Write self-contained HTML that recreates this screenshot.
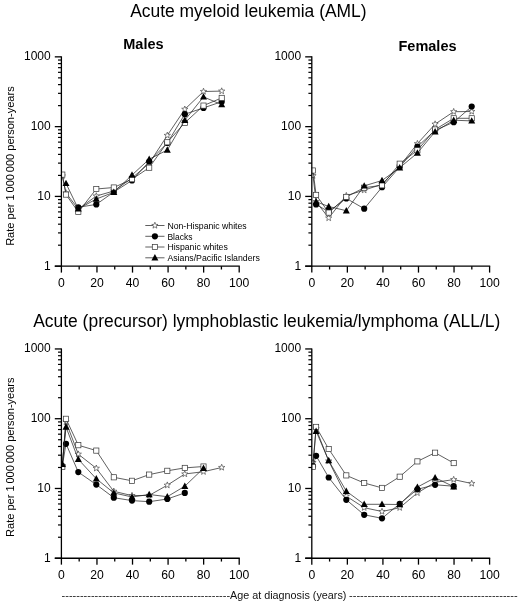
<!DOCTYPE html>
<html><head><meta charset="utf-8"><title>Leukemia incidence</title>
<style>
html,body{margin:0;padding:0;background:#fff;}
body{width:520px;height:605px;overflow:hidden;font-family:"Liberation Sans",sans-serif;}
svg{display:block;will-change:transform;}
</style></head><body>
<svg width="520" height="605" viewBox="0 0 520 605" font-family="'Liberation Sans', sans-serif" fill="#000">
<rect width="520" height="605" fill="#fff"/>
<text x="248.4" y="16.8" text-anchor="middle" font-size="17.45">Acute myeloid leukemia (AML)</text>
<text x="143.4" y="49" text-anchor="middle" font-size="14.5" font-weight="bold">Males</text>
<text x="427.5" y="50.5" text-anchor="middle" font-size="14.5" font-weight="bold">Females</text>
<text x="33.2" y="327" font-size="17.45">Acute (precursor) lymphoblastic leukemia/lymphoma (ALL/L)</text>
<text transform="translate(14.2,166.1) rotate(-90)" text-anchor="middle" font-size="11.04">Rate per 1<tspan dx="-1.2"> 000</tspan><tspan dx="-1.2"> 000 person-years</tspan></text>
<text transform="translate(14.2,457.2) rotate(-90)" text-anchor="middle" font-size="11.04">Rate per 1<tspan dx="-1.2"> 000</tspan><tspan dx="-1.2"> 000 person-years</tspan></text>
<clipPath id="c1"><rect x="61.199999999999996" y="0" width="260" height="605"/></clipPath>
<g clip-path="url(#c1)">
<polyline points="62.30,176.00 66.00,193.00 78.30,209.00 96.30,196.00 113.80,191.00 132.00,178.00 149.20,163.40 167.30,135.40 184.80,109.30 203.50,91.50 221.70,91.10" fill="none" stroke="#222" stroke-width="0.72"/>
<polygon points="62.30,172.70 63.12,174.87 65.44,174.98 63.63,176.43 64.24,178.67 62.30,177.40 60.36,178.67 60.97,176.43 59.16,174.98 61.48,174.87" fill="#fff" stroke="#333" stroke-width="0.6"/>
<polygon points="66.00,189.70 66.82,191.87 69.14,191.98 67.33,193.43 67.94,195.67 66.00,194.40 64.06,195.67 64.67,193.43 62.86,191.98 65.18,191.87" fill="#fff" stroke="#333" stroke-width="0.6"/>
<polygon points="78.30,205.70 79.12,207.87 81.44,207.98 79.63,209.43 80.24,211.67 78.30,210.40 76.36,211.67 76.97,209.43 75.16,207.98 77.48,207.87" fill="#fff" stroke="#333" stroke-width="0.6"/>
<polygon points="96.30,192.70 97.12,194.87 99.44,194.98 97.63,196.43 98.24,198.67 96.30,197.40 94.36,198.67 94.97,196.43 93.16,194.98 95.48,194.87" fill="#fff" stroke="#333" stroke-width="0.6"/>
<polygon points="113.80,187.70 114.62,189.87 116.94,189.98 115.13,191.43 115.74,193.67 113.80,192.40 111.86,193.67 112.47,191.43 110.66,189.98 112.98,189.87" fill="#fff" stroke="#333" stroke-width="0.6"/>
<polygon points="132.00,174.70 132.82,176.87 135.14,176.98 133.33,178.43 133.94,180.67 132.00,179.40 130.06,180.67 130.67,178.43 128.86,176.98 131.18,176.87" fill="#fff" stroke="#333" stroke-width="0.6"/>
<polygon points="149.20,160.10 150.02,162.27 152.34,162.38 150.53,163.83 151.14,166.07 149.20,164.80 147.26,166.07 147.87,163.83 146.06,162.38 148.38,162.27" fill="#fff" stroke="#333" stroke-width="0.6"/>
<polygon points="167.30,132.10 168.12,134.27 170.44,134.38 168.63,135.83 169.24,138.07 167.30,136.80 165.36,138.07 165.97,135.83 164.16,134.38 166.48,134.27" fill="#fff" stroke="#333" stroke-width="0.6"/>
<polygon points="184.80,106.00 185.62,108.17 187.94,108.28 186.13,109.73 186.74,111.97 184.80,110.70 182.86,111.97 183.47,109.73 181.66,108.28 183.98,108.17" fill="#fff" stroke="#333" stroke-width="0.6"/>
<polygon points="203.50,88.20 204.32,90.37 206.64,90.48 204.83,91.93 205.44,94.17 203.50,92.90 201.56,94.17 202.17,91.93 200.36,90.48 202.68,90.37" fill="#fff" stroke="#333" stroke-width="0.6"/>
<polygon points="221.70,87.80 222.52,89.97 224.84,90.08 223.03,91.53 223.64,93.77 221.70,92.50 219.76,93.77 220.37,91.53 218.56,90.08 220.88,89.97" fill="#fff" stroke="#333" stroke-width="0.6"/>
<polyline points="78.30,207.30 96.30,204.40 113.80,192.00 132.00,180.40 149.20,161.50 167.30,143.00 184.80,114.20 203.50,107.90 221.70,101.70" fill="none" stroke="#222" stroke-width="0.72"/>
<circle cx="78.30" cy="207.30" r="3.1" fill="#000"/>
<circle cx="96.30" cy="204.40" r="3.1" fill="#000"/>
<circle cx="113.80" cy="192.00" r="3.1" fill="#000"/>
<circle cx="132.00" cy="180.40" r="3.1" fill="#000"/>
<circle cx="149.20" cy="161.50" r="3.1" fill="#000"/>
<circle cx="167.30" cy="143.00" r="3.1" fill="#000"/>
<circle cx="184.80" cy="114.20" r="3.1" fill="#000"/>
<circle cx="203.50" cy="107.90" r="3.1" fill="#000"/>
<circle cx="221.70" cy="101.70" r="3.1" fill="#000"/>
<polyline points="62.30,174.60 66.00,194.60 78.30,212.00 96.30,189.00 113.80,187.50 132.00,179.20 149.20,167.70 167.30,142.30 184.80,122.80 203.50,105.60 221.70,97.90" fill="none" stroke="#222" stroke-width="0.72"/>
<rect x="59.70" y="172.00" width="5.2" height="5.2" fill="#fff" stroke="#333" stroke-width="0.7"/>
<rect x="63.40" y="192.00" width="5.2" height="5.2" fill="#fff" stroke="#333" stroke-width="0.7"/>
<rect x="75.70" y="209.40" width="5.2" height="5.2" fill="#fff" stroke="#333" stroke-width="0.7"/>
<rect x="93.70" y="186.40" width="5.2" height="5.2" fill="#fff" stroke="#333" stroke-width="0.7"/>
<rect x="111.20" y="184.90" width="5.2" height="5.2" fill="#fff" stroke="#333" stroke-width="0.7"/>
<rect x="129.40" y="176.60" width="5.2" height="5.2" fill="#fff" stroke="#333" stroke-width="0.7"/>
<rect x="146.60" y="165.10" width="5.2" height="5.2" fill="#fff" stroke="#333" stroke-width="0.7"/>
<rect x="164.70" y="139.70" width="5.2" height="5.2" fill="#fff" stroke="#333" stroke-width="0.7"/>
<rect x="182.20" y="120.20" width="5.2" height="5.2" fill="#fff" stroke="#333" stroke-width="0.7"/>
<rect x="200.90" y="103.00" width="5.2" height="5.2" fill="#fff" stroke="#333" stroke-width="0.7"/>
<rect x="219.10" y="95.30" width="5.2" height="5.2" fill="#fff" stroke="#333" stroke-width="0.7"/>
<polyline points="66.00,183.40 78.30,208.90 96.30,199.00 113.80,192.30 132.00,175.00 149.20,159.20 167.30,150.00 184.80,120.20 203.50,96.90 221.70,104.60" fill="none" stroke="#222" stroke-width="0.72"/>
<polygon points="66.00,179.69 69.50,186.09 62.50,186.09" fill="#000"/>
<polygon points="78.30,205.19 81.80,211.59 74.80,211.59" fill="#000"/>
<polygon points="96.30,195.29 99.80,201.69 92.80,201.69" fill="#000"/>
<polygon points="113.80,188.59 117.30,194.99 110.30,194.99" fill="#000"/>
<polygon points="132.00,171.29 135.50,177.69 128.50,177.69" fill="#000"/>
<polygon points="149.20,155.49 152.70,161.89 145.70,161.89" fill="#000"/>
<polygon points="167.30,146.29 170.80,152.69 163.80,152.69" fill="#000"/>
<polygon points="184.80,116.49 188.30,122.89 181.30,122.89" fill="#000"/>
<polygon points="203.50,93.19 207.00,99.59 200.00,99.59" fill="#000"/>
<polygon points="221.70,100.89 225.20,107.29 218.20,107.29" fill="#000"/>
</g>
<clipPath id="c2"><rect x="311.6" y="0" width="260" height="605"/></clipPath>
<g clip-path="url(#c2)">
<polyline points="313.00,175.70 316.10,201.70 328.70,218.00 346.30,195.70 364.20,190.10 382.00,184.30 399.70,166.10 417.40,143.70 435.10,124.10 453.70,111.70 471.70,111.50" fill="none" stroke="#222" stroke-width="0.72"/>
<polygon points="313.00,172.40 313.82,174.57 316.14,174.68 314.33,176.13 314.94,178.37 313.00,177.10 311.06,178.37 311.67,176.13 309.86,174.68 312.18,174.57" fill="#fff" stroke="#333" stroke-width="0.6"/>
<polygon points="316.10,198.40 316.92,200.57 319.24,200.68 317.43,202.13 318.04,204.37 316.10,203.10 314.16,204.37 314.77,202.13 312.96,200.68 315.28,200.57" fill="#fff" stroke="#333" stroke-width="0.6"/>
<polygon points="328.70,214.70 329.52,216.87 331.84,216.98 330.03,218.43 330.64,220.67 328.70,219.40 326.76,220.67 327.37,218.43 325.56,216.98 327.88,216.87" fill="#fff" stroke="#333" stroke-width="0.6"/>
<polygon points="346.30,192.40 347.12,194.57 349.44,194.68 347.63,196.13 348.24,198.37 346.30,197.10 344.36,198.37 344.97,196.13 343.16,194.68 345.48,194.57" fill="#fff" stroke="#333" stroke-width="0.6"/>
<polygon points="364.20,186.80 365.02,188.97 367.34,189.08 365.53,190.53 366.14,192.77 364.20,191.50 362.26,192.77 362.87,190.53 361.06,189.08 363.38,188.97" fill="#fff" stroke="#333" stroke-width="0.6"/>
<polygon points="382.00,181.00 382.82,183.17 385.14,183.28 383.33,184.73 383.94,186.97 382.00,185.70 380.06,186.97 380.67,184.73 378.86,183.28 381.18,183.17" fill="#fff" stroke="#333" stroke-width="0.6"/>
<polygon points="399.70,162.80 400.52,164.97 402.84,165.08 401.03,166.53 401.64,168.77 399.70,167.50 397.76,168.77 398.37,166.53 396.56,165.08 398.88,164.97" fill="#fff" stroke="#333" stroke-width="0.6"/>
<polygon points="417.40,140.40 418.22,142.57 420.54,142.68 418.73,144.13 419.34,146.37 417.40,145.10 415.46,146.37 416.07,144.13 414.26,142.68 416.58,142.57" fill="#fff" stroke="#333" stroke-width="0.6"/>
<polygon points="435.10,120.80 435.92,122.97 438.24,123.08 436.43,124.53 437.04,126.77 435.10,125.50 433.16,126.77 433.77,124.53 431.96,123.08 434.28,122.97" fill="#fff" stroke="#333" stroke-width="0.6"/>
<polygon points="453.70,108.40 454.52,110.57 456.84,110.68 455.03,112.13 455.64,114.37 453.70,113.10 451.76,114.37 452.37,112.13 450.56,110.68 452.88,110.57" fill="#fff" stroke="#333" stroke-width="0.6"/>
<polygon points="471.70,108.20 472.52,110.37 474.84,110.48 473.03,111.93 473.64,114.17 471.70,112.90 469.76,114.17 470.37,111.93 468.56,110.48 470.88,110.37" fill="#fff" stroke="#333" stroke-width="0.6"/>
<polyline points="316.10,204.50 328.70,211.70 346.30,198.40 364.20,208.70 382.00,187.20 399.70,167.00 417.40,146.70 435.10,130.30 453.70,122.20 471.70,106.50" fill="none" stroke="#222" stroke-width="0.72"/>
<circle cx="316.10" cy="204.50" r="3.1" fill="#000"/>
<circle cx="328.70" cy="211.70" r="3.1" fill="#000"/>
<circle cx="346.30" cy="198.40" r="3.1" fill="#000"/>
<circle cx="364.20" cy="208.70" r="3.1" fill="#000"/>
<circle cx="382.00" cy="187.20" r="3.1" fill="#000"/>
<circle cx="399.70" cy="167.00" r="3.1" fill="#000"/>
<circle cx="417.40" cy="146.70" r="3.1" fill="#000"/>
<circle cx="435.10" cy="130.30" r="3.1" fill="#000"/>
<circle cx="453.70" cy="122.20" r="3.1" fill="#000"/>
<circle cx="471.70" cy="106.50" r="3.1" fill="#000"/>
<polyline points="313.00,170.50 316.10,194.90 328.70,212.60 346.30,196.90 364.20,187.70 382.00,185.30 399.70,163.70 417.40,150.30 435.10,129.50 453.70,118.30 471.70,118.30" fill="none" stroke="#222" stroke-width="0.72"/>
<rect x="310.40" y="167.90" width="5.2" height="5.2" fill="#fff" stroke="#333" stroke-width="0.7"/>
<rect x="313.50" y="192.30" width="5.2" height="5.2" fill="#fff" stroke="#333" stroke-width="0.7"/>
<rect x="326.10" y="210.00" width="5.2" height="5.2" fill="#fff" stroke="#333" stroke-width="0.7"/>
<rect x="343.70" y="194.30" width="5.2" height="5.2" fill="#fff" stroke="#333" stroke-width="0.7"/>
<rect x="361.60" y="185.10" width="5.2" height="5.2" fill="#fff" stroke="#333" stroke-width="0.7"/>
<rect x="379.40" y="182.70" width="5.2" height="5.2" fill="#fff" stroke="#333" stroke-width="0.7"/>
<rect x="397.10" y="161.10" width="5.2" height="5.2" fill="#fff" stroke="#333" stroke-width="0.7"/>
<rect x="414.80" y="147.70" width="5.2" height="5.2" fill="#fff" stroke="#333" stroke-width="0.7"/>
<rect x="432.50" y="126.90" width="5.2" height="5.2" fill="#fff" stroke="#333" stroke-width="0.7"/>
<rect x="451.10" y="115.70" width="5.2" height="5.2" fill="#fff" stroke="#333" stroke-width="0.7"/>
<rect x="469.10" y="115.70" width="5.2" height="5.2" fill="#fff" stroke="#333" stroke-width="0.7"/>
<polyline points="316.10,201.70 328.70,206.50 346.30,210.70 364.20,185.90 382.00,180.50 399.70,167.70 417.40,153.00 435.10,131.70 453.70,120.20 471.70,120.90" fill="none" stroke="#222" stroke-width="0.72"/>
<polygon points="316.10,197.99 319.60,204.39 312.60,204.39" fill="#000"/>
<polygon points="328.70,202.79 332.20,209.19 325.20,209.19" fill="#000"/>
<polygon points="346.30,206.99 349.80,213.39 342.80,213.39" fill="#000"/>
<polygon points="364.20,182.19 367.70,188.59 360.70,188.59" fill="#000"/>
<polygon points="382.00,176.79 385.50,183.19 378.50,183.19" fill="#000"/>
<polygon points="399.70,163.99 403.20,170.39 396.20,170.39" fill="#000"/>
<polygon points="417.40,149.29 420.90,155.69 413.90,155.69" fill="#000"/>
<polygon points="435.10,127.99 438.60,134.39 431.60,134.39" fill="#000"/>
<polygon points="453.70,116.49 457.20,122.89 450.20,122.89" fill="#000"/>
<polygon points="471.70,117.19 475.20,123.59 468.20,123.59" fill="#000"/>
</g>
<clipPath id="c3"><rect x="61.199999999999996" y="0" width="260" height="605"/></clipPath>
<g clip-path="url(#c3)">
<polyline points="62.30,466.00 66.00,422.00 78.30,454.20 96.30,468.30 113.80,491.30 132.00,495.60 149.20,495.40 167.30,485.20 184.80,474.00 203.50,471.70 221.70,467.50" fill="none" stroke="#222" stroke-width="0.72"/>
<polygon points="62.30,462.70 63.12,464.87 65.44,464.98 63.63,466.43 64.24,468.67 62.30,467.40 60.36,468.67 60.97,466.43 59.16,464.98 61.48,464.87" fill="#fff" stroke="#333" stroke-width="0.6"/>
<polygon points="66.00,418.70 66.82,420.87 69.14,420.98 67.33,422.43 67.94,424.67 66.00,423.40 64.06,424.67 64.67,422.43 62.86,420.98 65.18,420.87" fill="#fff" stroke="#333" stroke-width="0.6"/>
<polygon points="78.30,450.90 79.12,453.07 81.44,453.18 79.63,454.63 80.24,456.87 78.30,455.60 76.36,456.87 76.97,454.63 75.16,453.18 77.48,453.07" fill="#fff" stroke="#333" stroke-width="0.6"/>
<polygon points="96.30,465.00 97.12,467.17 99.44,467.28 97.63,468.73 98.24,470.97 96.30,469.70 94.36,470.97 94.97,468.73 93.16,467.28 95.48,467.17" fill="#fff" stroke="#333" stroke-width="0.6"/>
<polygon points="113.80,488.00 114.62,490.17 116.94,490.28 115.13,491.73 115.74,493.97 113.80,492.70 111.86,493.97 112.47,491.73 110.66,490.28 112.98,490.17" fill="#fff" stroke="#333" stroke-width="0.6"/>
<polygon points="132.00,492.30 132.82,494.47 135.14,494.58 133.33,496.03 133.94,498.27 132.00,497.00 130.06,498.27 130.67,496.03 128.86,494.58 131.18,494.47" fill="#fff" stroke="#333" stroke-width="0.6"/>
<polygon points="149.20,492.10 150.02,494.27 152.34,494.38 150.53,495.83 151.14,498.07 149.20,496.80 147.26,498.07 147.87,495.83 146.06,494.38 148.38,494.27" fill="#fff" stroke="#333" stroke-width="0.6"/>
<polygon points="167.30,481.90 168.12,484.07 170.44,484.18 168.63,485.63 169.24,487.87 167.30,486.60 165.36,487.87 165.97,485.63 164.16,484.18 166.48,484.07" fill="#fff" stroke="#333" stroke-width="0.6"/>
<polygon points="184.80,470.70 185.62,472.87 187.94,472.98 186.13,474.43 186.74,476.67 184.80,475.40 182.86,476.67 183.47,474.43 181.66,472.98 183.98,472.87" fill="#fff" stroke="#333" stroke-width="0.6"/>
<polygon points="203.50,468.40 204.32,470.57 206.64,470.68 204.83,472.13 205.44,474.37 203.50,473.10 201.56,474.37 202.17,472.13 200.36,470.68 202.68,470.57" fill="#fff" stroke="#333" stroke-width="0.6"/>
<polygon points="221.70,464.20 222.52,466.37 224.84,466.48 223.03,467.93 223.64,470.17 221.70,468.90 219.76,470.17 220.37,467.93 218.56,466.48 220.88,466.37" fill="#fff" stroke="#333" stroke-width="0.6"/>
<polyline points="62.30,466.00 66.00,443.80 78.30,472.10 96.30,484.60 113.80,497.70 132.00,500.60 149.20,501.70 167.30,499.00 184.80,492.90" fill="none" stroke="#222" stroke-width="0.72"/>
<circle cx="62.30" cy="466.00" r="3.1" fill="#000"/>
<circle cx="66.00" cy="443.80" r="3.1" fill="#000"/>
<circle cx="78.30" cy="472.10" r="3.1" fill="#000"/>
<circle cx="96.30" cy="484.60" r="3.1" fill="#000"/>
<circle cx="113.80" cy="497.70" r="3.1" fill="#000"/>
<circle cx="132.00" cy="500.60" r="3.1" fill="#000"/>
<circle cx="149.20" cy="501.70" r="3.1" fill="#000"/>
<circle cx="167.30" cy="499.00" r="3.1" fill="#000"/>
<circle cx="184.80" cy="492.90" r="3.1" fill="#000"/>
<polyline points="62.30,466.90 66.00,418.80 78.30,445.20 96.30,450.60 113.80,477.30 132.00,480.80 149.20,474.60 167.30,470.80 184.80,467.90 203.50,466.50" fill="none" stroke="#222" stroke-width="0.72"/>
<rect x="59.70" y="464.30" width="5.2" height="5.2" fill="#fff" stroke="#333" stroke-width="0.7"/>
<rect x="63.40" y="416.20" width="5.2" height="5.2" fill="#fff" stroke="#333" stroke-width="0.7"/>
<rect x="75.70" y="442.60" width="5.2" height="5.2" fill="#fff" stroke="#333" stroke-width="0.7"/>
<rect x="93.70" y="448.00" width="5.2" height="5.2" fill="#fff" stroke="#333" stroke-width="0.7"/>
<rect x="111.20" y="474.70" width="5.2" height="5.2" fill="#fff" stroke="#333" stroke-width="0.7"/>
<rect x="129.40" y="478.20" width="5.2" height="5.2" fill="#fff" stroke="#333" stroke-width="0.7"/>
<rect x="146.60" y="472.00" width="5.2" height="5.2" fill="#fff" stroke="#333" stroke-width="0.7"/>
<rect x="164.70" y="468.20" width="5.2" height="5.2" fill="#fff" stroke="#333" stroke-width="0.7"/>
<rect x="182.20" y="465.30" width="5.2" height="5.2" fill="#fff" stroke="#333" stroke-width="0.7"/>
<rect x="200.90" y="463.90" width="5.2" height="5.2" fill="#fff" stroke="#333" stroke-width="0.7"/>
<polyline points="62.30,464.30 66.00,427.00 78.30,459.30 96.30,478.80 113.80,492.90 132.00,497.00 149.20,494.50 167.30,496.70 184.80,486.20 203.50,468.30" fill="none" stroke="#222" stroke-width="0.72"/>
<polygon points="62.30,460.59 65.80,466.99 58.80,466.99" fill="#000"/>
<polygon points="66.00,423.29 69.50,429.69 62.50,429.69" fill="#000"/>
<polygon points="78.30,455.59 81.80,461.99 74.80,461.99" fill="#000"/>
<polygon points="96.30,475.09 99.80,481.49 92.80,481.49" fill="#000"/>
<polygon points="113.80,489.19 117.30,495.59 110.30,495.59" fill="#000"/>
<polygon points="132.00,493.29 135.50,499.69 128.50,499.69" fill="#000"/>
<polygon points="149.20,490.79 152.70,497.19 145.70,497.19" fill="#000"/>
<polygon points="167.30,492.99 170.80,499.39 163.80,499.39" fill="#000"/>
<polygon points="184.80,482.49 188.30,488.89 181.30,488.89" fill="#000"/>
<polygon points="203.50,464.59 207.00,470.99 200.00,470.99" fill="#000"/>
</g>
<clipPath id="c4"><rect x="311.6" y="0" width="260" height="605"/></clipPath>
<g clip-path="url(#c4)">
<polyline points="313.00,462.60 316.10,428.80 328.70,461.00 346.30,496.20 364.20,507.70 382.00,511.50 399.70,507.70 417.40,492.90 435.10,482.30 453.70,479.60 471.70,483.50" fill="none" stroke="#222" stroke-width="0.72"/>
<polygon points="313.00,459.30 313.82,461.47 316.14,461.58 314.33,463.03 314.94,465.27 313.00,464.00 311.06,465.27 311.67,463.03 309.86,461.58 312.18,461.47" fill="#fff" stroke="#333" stroke-width="0.6"/>
<polygon points="316.10,425.50 316.92,427.67 319.24,427.78 317.43,429.23 318.04,431.47 316.10,430.20 314.16,431.47 314.77,429.23 312.96,427.78 315.28,427.67" fill="#fff" stroke="#333" stroke-width="0.6"/>
<polygon points="328.70,457.70 329.52,459.87 331.84,459.98 330.03,461.43 330.64,463.67 328.70,462.40 326.76,463.67 327.37,461.43 325.56,459.98 327.88,459.87" fill="#fff" stroke="#333" stroke-width="0.6"/>
<polygon points="346.30,492.90 347.12,495.07 349.44,495.18 347.63,496.63 348.24,498.87 346.30,497.60 344.36,498.87 344.97,496.63 343.16,495.18 345.48,495.07" fill="#fff" stroke="#333" stroke-width="0.6"/>
<polygon points="364.20,504.40 365.02,506.57 367.34,506.68 365.53,508.13 366.14,510.37 364.20,509.10 362.26,510.37 362.87,508.13 361.06,506.68 363.38,506.57" fill="#fff" stroke="#333" stroke-width="0.6"/>
<polygon points="382.00,508.20 382.82,510.37 385.14,510.48 383.33,511.93 383.94,514.17 382.00,512.90 380.06,514.17 380.67,511.93 378.86,510.48 381.18,510.37" fill="#fff" stroke="#333" stroke-width="0.6"/>
<polygon points="399.70,504.40 400.52,506.57 402.84,506.68 401.03,508.13 401.64,510.37 399.70,509.10 397.76,510.37 398.37,508.13 396.56,506.68 398.88,506.57" fill="#fff" stroke="#333" stroke-width="0.6"/>
<polygon points="417.40,489.60 418.22,491.77 420.54,491.88 418.73,493.33 419.34,495.57 417.40,494.30 415.46,495.57 416.07,493.33 414.26,491.88 416.58,491.77" fill="#fff" stroke="#333" stroke-width="0.6"/>
<polygon points="435.10,479.00 435.92,481.17 438.24,481.28 436.43,482.73 437.04,484.97 435.10,483.70 433.16,484.97 433.77,482.73 431.96,481.28 434.28,481.17" fill="#fff" stroke="#333" stroke-width="0.6"/>
<polygon points="453.70,476.30 454.52,478.47 456.84,478.58 455.03,480.03 455.64,482.27 453.70,481.00 451.76,482.27 452.37,480.03 450.56,478.58 452.88,478.47" fill="#fff" stroke="#333" stroke-width="0.6"/>
<polygon points="471.70,480.20 472.52,482.37 474.84,482.48 473.03,483.93 473.64,486.17 471.70,484.90 469.76,486.17 470.37,483.93 468.56,482.48 470.88,482.37" fill="#fff" stroke="#333" stroke-width="0.6"/>
<polyline points="313.00,466.00 316.10,455.80 328.70,477.50 346.30,499.80 364.20,514.80 382.00,518.30 399.70,503.80 417.40,489.30 435.10,484.80 453.70,486.20" fill="none" stroke="#222" stroke-width="0.72"/>
<circle cx="313.00" cy="466.00" r="3.1" fill="#000"/>
<circle cx="316.10" cy="455.80" r="3.1" fill="#000"/>
<circle cx="328.70" cy="477.50" r="3.1" fill="#000"/>
<circle cx="346.30" cy="499.80" r="3.1" fill="#000"/>
<circle cx="364.20" cy="514.80" r="3.1" fill="#000"/>
<circle cx="382.00" cy="518.30" r="3.1" fill="#000"/>
<circle cx="399.70" cy="503.80" r="3.1" fill="#000"/>
<circle cx="417.40" cy="489.30" r="3.1" fill="#000"/>
<circle cx="435.10" cy="484.80" r="3.1" fill="#000"/>
<circle cx="453.70" cy="486.20" r="3.1" fill="#000"/>
<polyline points="313.00,466.90 316.10,426.90 328.70,449.00 346.30,475.40 364.20,483.00 382.00,487.90 399.70,476.70 417.40,461.40 435.10,452.70 453.70,463.10" fill="none" stroke="#222" stroke-width="0.72"/>
<rect x="310.40" y="464.30" width="5.2" height="5.2" fill="#fff" stroke="#333" stroke-width="0.7"/>
<rect x="313.50" y="424.30" width="5.2" height="5.2" fill="#fff" stroke="#333" stroke-width="0.7"/>
<rect x="326.10" y="446.40" width="5.2" height="5.2" fill="#fff" stroke="#333" stroke-width="0.7"/>
<rect x="343.70" y="472.80" width="5.2" height="5.2" fill="#fff" stroke="#333" stroke-width="0.7"/>
<rect x="361.60" y="480.40" width="5.2" height="5.2" fill="#fff" stroke="#333" stroke-width="0.7"/>
<rect x="379.40" y="485.30" width="5.2" height="5.2" fill="#fff" stroke="#333" stroke-width="0.7"/>
<rect x="397.10" y="474.10" width="5.2" height="5.2" fill="#fff" stroke="#333" stroke-width="0.7"/>
<rect x="414.80" y="458.80" width="5.2" height="5.2" fill="#fff" stroke="#333" stroke-width="0.7"/>
<rect x="432.50" y="450.10" width="5.2" height="5.2" fill="#fff" stroke="#333" stroke-width="0.7"/>
<rect x="451.10" y="460.50" width="5.2" height="5.2" fill="#fff" stroke="#333" stroke-width="0.7"/>
<polyline points="316.10,431.20 328.70,460.60 346.30,491.20 364.20,504.30 382.00,504.30 399.70,504.50 417.40,487.10 435.10,477.70 453.70,486.70" fill="none" stroke="#222" stroke-width="0.72"/>
<polygon points="316.10,427.49 319.60,433.89 312.60,433.89" fill="#000"/>
<polygon points="328.70,456.89 332.20,463.29 325.20,463.29" fill="#000"/>
<polygon points="346.30,487.49 349.80,493.89 342.80,493.89" fill="#000"/>
<polygon points="364.20,500.59 367.70,506.99 360.70,506.99" fill="#000"/>
<polygon points="382.00,500.59 385.50,506.99 378.50,506.99" fill="#000"/>
<polygon points="399.70,500.79 403.20,507.19 396.20,507.19" fill="#000"/>
<polygon points="417.40,483.39 420.90,489.79 413.90,489.79" fill="#000"/>
<polygon points="435.10,473.99 438.60,480.39 431.60,480.39" fill="#000"/>
<polygon points="453.70,482.99 457.20,489.39 450.20,489.39" fill="#000"/>
</g>
<line x1="61.4" y1="56.35" x2="61.4" y2="266.7" stroke="#000" stroke-width="1.3"/>
<line x1="54.8" y1="266.2" x2="239.8" y2="266.2" stroke="#000" stroke-width="1.3"/>
<line x1="54.8" y1="266.20" x2="61.4" y2="266.20" stroke="#000" stroke-width="1.3"/>
<text x="50.7" y="269.65" text-anchor="end" font-size="12">1</text>
<line x1="58.0" y1="245.19" x2="61.4" y2="245.19" stroke="#000" stroke-width="1.2"/>
<line x1="58.0" y1="232.90" x2="61.4" y2="232.90" stroke="#000" stroke-width="1.2"/>
<line x1="58.0" y1="224.19" x2="61.4" y2="224.19" stroke="#000" stroke-width="1.2"/>
<line x1="58.0" y1="217.42" x2="61.4" y2="217.42" stroke="#000" stroke-width="1.2"/>
<line x1="58.0" y1="211.90" x2="61.4" y2="211.90" stroke="#000" stroke-width="1.2"/>
<line x1="58.0" y1="207.23" x2="61.4" y2="207.23" stroke="#000" stroke-width="1.2"/>
<line x1="58.0" y1="203.18" x2="61.4" y2="203.18" stroke="#000" stroke-width="1.2"/>
<line x1="58.0" y1="199.61" x2="61.4" y2="199.61" stroke="#000" stroke-width="1.2"/>
<line x1="54.8" y1="196.42" x2="61.4" y2="196.42" stroke="#000" stroke-width="1.3"/>
<text x="50.7" y="199.87" text-anchor="end" font-size="12">10</text>
<line x1="58.0" y1="175.41" x2="61.4" y2="175.41" stroke="#000" stroke-width="1.2"/>
<line x1="58.0" y1="163.12" x2="61.4" y2="163.12" stroke="#000" stroke-width="1.2"/>
<line x1="58.0" y1="154.40" x2="61.4" y2="154.40" stroke="#000" stroke-width="1.2"/>
<line x1="58.0" y1="147.64" x2="61.4" y2="147.64" stroke="#000" stroke-width="1.2"/>
<line x1="58.0" y1="142.11" x2="61.4" y2="142.11" stroke="#000" stroke-width="1.2"/>
<line x1="58.0" y1="137.44" x2="61.4" y2="137.44" stroke="#000" stroke-width="1.2"/>
<line x1="58.0" y1="133.40" x2="61.4" y2="133.40" stroke="#000" stroke-width="1.2"/>
<line x1="58.0" y1="129.83" x2="61.4" y2="129.83" stroke="#000" stroke-width="1.2"/>
<line x1="54.8" y1="126.63" x2="61.4" y2="126.63" stroke="#000" stroke-width="1.3"/>
<text x="50.7" y="130.08" text-anchor="end" font-size="12">100</text>
<line x1="58.0" y1="105.63" x2="61.4" y2="105.63" stroke="#000" stroke-width="1.2"/>
<line x1="58.0" y1="93.34" x2="61.4" y2="93.34" stroke="#000" stroke-width="1.2"/>
<line x1="58.0" y1="84.62" x2="61.4" y2="84.62" stroke="#000" stroke-width="1.2"/>
<line x1="58.0" y1="77.86" x2="61.4" y2="77.86" stroke="#000" stroke-width="1.2"/>
<line x1="58.0" y1="72.33" x2="61.4" y2="72.33" stroke="#000" stroke-width="1.2"/>
<line x1="58.0" y1="67.66" x2="61.4" y2="67.66" stroke="#000" stroke-width="1.2"/>
<line x1="58.0" y1="63.61" x2="61.4" y2="63.61" stroke="#000" stroke-width="1.2"/>
<line x1="58.0" y1="60.04" x2="61.4" y2="60.04" stroke="#000" stroke-width="1.2"/>
<line x1="54.8" y1="56.85" x2="61.4" y2="56.85" stroke="#000" stroke-width="1.3"/>
<text x="50.7" y="60.30" text-anchor="end" font-size="12">1000</text>
<line x1="61.40" y1="266.2" x2="61.40" y2="272.59999999999997" stroke="#000" stroke-width="1.3"/>
<text x="61.40" y="286.50" text-anchor="middle" font-size="12.2">0</text>
<line x1="79.18" y1="266.2" x2="79.18" y2="269.5" stroke="#000" stroke-width="1.3"/>
<line x1="96.96" y1="266.2" x2="96.96" y2="272.59999999999997" stroke="#000" stroke-width="1.3"/>
<text x="96.96" y="286.50" text-anchor="middle" font-size="12.2">20</text>
<line x1="114.74" y1="266.2" x2="114.74" y2="269.5" stroke="#000" stroke-width="1.3"/>
<line x1="132.52" y1="266.2" x2="132.52" y2="272.59999999999997" stroke="#000" stroke-width="1.3"/>
<text x="132.52" y="286.50" text-anchor="middle" font-size="12.2">40</text>
<line x1="150.30" y1="266.2" x2="150.30" y2="269.5" stroke="#000" stroke-width="1.3"/>
<line x1="168.08" y1="266.2" x2="168.08" y2="272.59999999999997" stroke="#000" stroke-width="1.3"/>
<text x="168.08" y="286.50" text-anchor="middle" font-size="12.2">60</text>
<line x1="185.86" y1="266.2" x2="185.86" y2="269.5" stroke="#000" stroke-width="1.3"/>
<line x1="203.64" y1="266.2" x2="203.64" y2="272.59999999999997" stroke="#000" stroke-width="1.3"/>
<text x="203.64" y="286.50" text-anchor="middle" font-size="12.2">80</text>
<line x1="221.42" y1="266.2" x2="221.42" y2="269.5" stroke="#000" stroke-width="1.3"/>
<line x1="239.20" y1="266.2" x2="239.20" y2="272.59999999999997" stroke="#000" stroke-width="1.3"/>
<text x="239.20" y="286.50" text-anchor="middle" font-size="12.2">100</text>
<line x1="311.8" y1="56.35" x2="311.8" y2="266.7" stroke="#000" stroke-width="1.3"/>
<line x1="305.2" y1="266.2" x2="490.20000000000005" y2="266.2" stroke="#000" stroke-width="1.3"/>
<line x1="305.2" y1="266.20" x2="311.8" y2="266.20" stroke="#000" stroke-width="1.3"/>
<text x="301.1" y="269.65" text-anchor="end" font-size="12">1</text>
<line x1="308.40000000000003" y1="245.19" x2="311.8" y2="245.19" stroke="#000" stroke-width="1.2"/>
<line x1="308.40000000000003" y1="232.90" x2="311.8" y2="232.90" stroke="#000" stroke-width="1.2"/>
<line x1="308.40000000000003" y1="224.19" x2="311.8" y2="224.19" stroke="#000" stroke-width="1.2"/>
<line x1="308.40000000000003" y1="217.42" x2="311.8" y2="217.42" stroke="#000" stroke-width="1.2"/>
<line x1="308.40000000000003" y1="211.90" x2="311.8" y2="211.90" stroke="#000" stroke-width="1.2"/>
<line x1="308.40000000000003" y1="207.23" x2="311.8" y2="207.23" stroke="#000" stroke-width="1.2"/>
<line x1="308.40000000000003" y1="203.18" x2="311.8" y2="203.18" stroke="#000" stroke-width="1.2"/>
<line x1="308.40000000000003" y1="199.61" x2="311.8" y2="199.61" stroke="#000" stroke-width="1.2"/>
<line x1="305.2" y1="196.42" x2="311.8" y2="196.42" stroke="#000" stroke-width="1.3"/>
<text x="301.1" y="199.87" text-anchor="end" font-size="12">10</text>
<line x1="308.40000000000003" y1="175.41" x2="311.8" y2="175.41" stroke="#000" stroke-width="1.2"/>
<line x1="308.40000000000003" y1="163.12" x2="311.8" y2="163.12" stroke="#000" stroke-width="1.2"/>
<line x1="308.40000000000003" y1="154.40" x2="311.8" y2="154.40" stroke="#000" stroke-width="1.2"/>
<line x1="308.40000000000003" y1="147.64" x2="311.8" y2="147.64" stroke="#000" stroke-width="1.2"/>
<line x1="308.40000000000003" y1="142.11" x2="311.8" y2="142.11" stroke="#000" stroke-width="1.2"/>
<line x1="308.40000000000003" y1="137.44" x2="311.8" y2="137.44" stroke="#000" stroke-width="1.2"/>
<line x1="308.40000000000003" y1="133.40" x2="311.8" y2="133.40" stroke="#000" stroke-width="1.2"/>
<line x1="308.40000000000003" y1="129.83" x2="311.8" y2="129.83" stroke="#000" stroke-width="1.2"/>
<line x1="305.2" y1="126.63" x2="311.8" y2="126.63" stroke="#000" stroke-width="1.3"/>
<text x="301.1" y="130.08" text-anchor="end" font-size="12">100</text>
<line x1="308.40000000000003" y1="105.63" x2="311.8" y2="105.63" stroke="#000" stroke-width="1.2"/>
<line x1="308.40000000000003" y1="93.34" x2="311.8" y2="93.34" stroke="#000" stroke-width="1.2"/>
<line x1="308.40000000000003" y1="84.62" x2="311.8" y2="84.62" stroke="#000" stroke-width="1.2"/>
<line x1="308.40000000000003" y1="77.86" x2="311.8" y2="77.86" stroke="#000" stroke-width="1.2"/>
<line x1="308.40000000000003" y1="72.33" x2="311.8" y2="72.33" stroke="#000" stroke-width="1.2"/>
<line x1="308.40000000000003" y1="67.66" x2="311.8" y2="67.66" stroke="#000" stroke-width="1.2"/>
<line x1="308.40000000000003" y1="63.61" x2="311.8" y2="63.61" stroke="#000" stroke-width="1.2"/>
<line x1="308.40000000000003" y1="60.04" x2="311.8" y2="60.04" stroke="#000" stroke-width="1.2"/>
<line x1="305.2" y1="56.85" x2="311.8" y2="56.85" stroke="#000" stroke-width="1.3"/>
<text x="301.1" y="60.30" text-anchor="end" font-size="12">1000</text>
<line x1="311.80" y1="266.2" x2="311.80" y2="272.59999999999997" stroke="#000" stroke-width="1.3"/>
<text x="311.80" y="286.50" text-anchor="middle" font-size="12.2">0</text>
<line x1="329.58" y1="266.2" x2="329.58" y2="269.5" stroke="#000" stroke-width="1.3"/>
<line x1="347.36" y1="266.2" x2="347.36" y2="272.59999999999997" stroke="#000" stroke-width="1.3"/>
<text x="347.36" y="286.50" text-anchor="middle" font-size="12.2">20</text>
<line x1="365.14" y1="266.2" x2="365.14" y2="269.5" stroke="#000" stroke-width="1.3"/>
<line x1="382.92" y1="266.2" x2="382.92" y2="272.59999999999997" stroke="#000" stroke-width="1.3"/>
<text x="382.92" y="286.50" text-anchor="middle" font-size="12.2">40</text>
<line x1="400.70" y1="266.2" x2="400.70" y2="269.5" stroke="#000" stroke-width="1.3"/>
<line x1="418.48" y1="266.2" x2="418.48" y2="272.59999999999997" stroke="#000" stroke-width="1.3"/>
<text x="418.48" y="286.50" text-anchor="middle" font-size="12.2">60</text>
<line x1="436.26" y1="266.2" x2="436.26" y2="269.5" stroke="#000" stroke-width="1.3"/>
<line x1="454.04" y1="266.2" x2="454.04" y2="272.59999999999997" stroke="#000" stroke-width="1.3"/>
<text x="454.04" y="286.50" text-anchor="middle" font-size="12.2">80</text>
<line x1="471.82" y1="266.2" x2="471.82" y2="269.5" stroke="#000" stroke-width="1.3"/>
<line x1="489.60" y1="266.2" x2="489.60" y2="272.59999999999997" stroke="#000" stroke-width="1.3"/>
<text x="489.60" y="286.50" text-anchor="middle" font-size="12.2">100</text>
<line x1="61.4" y1="348.45" x2="61.4" y2="558.75" stroke="#000" stroke-width="1.3"/>
<line x1="54.8" y1="558.25" x2="239.8" y2="558.25" stroke="#000" stroke-width="1.3"/>
<line x1="54.8" y1="558.25" x2="61.4" y2="558.25" stroke="#000" stroke-width="1.3"/>
<text x="50.7" y="561.70" text-anchor="end" font-size="12">1</text>
<line x1="58.0" y1="537.25" x2="61.4" y2="537.25" stroke="#000" stroke-width="1.2"/>
<line x1="58.0" y1="524.96" x2="61.4" y2="524.96" stroke="#000" stroke-width="1.2"/>
<line x1="58.0" y1="516.25" x2="61.4" y2="516.25" stroke="#000" stroke-width="1.2"/>
<line x1="58.0" y1="509.49" x2="61.4" y2="509.49" stroke="#000" stroke-width="1.2"/>
<line x1="58.0" y1="503.96" x2="61.4" y2="503.96" stroke="#000" stroke-width="1.2"/>
<line x1="58.0" y1="499.29" x2="61.4" y2="499.29" stroke="#000" stroke-width="1.2"/>
<line x1="58.0" y1="495.24" x2="61.4" y2="495.24" stroke="#000" stroke-width="1.2"/>
<line x1="58.0" y1="491.68" x2="61.4" y2="491.68" stroke="#000" stroke-width="1.2"/>
<line x1="54.8" y1="488.48" x2="61.4" y2="488.48" stroke="#000" stroke-width="1.3"/>
<text x="50.7" y="491.93" text-anchor="end" font-size="12">10</text>
<line x1="58.0" y1="467.48" x2="61.4" y2="467.48" stroke="#000" stroke-width="1.2"/>
<line x1="58.0" y1="455.20" x2="61.4" y2="455.20" stroke="#000" stroke-width="1.2"/>
<line x1="58.0" y1="446.48" x2="61.4" y2="446.48" stroke="#000" stroke-width="1.2"/>
<line x1="58.0" y1="439.72" x2="61.4" y2="439.72" stroke="#000" stroke-width="1.2"/>
<line x1="58.0" y1="434.19" x2="61.4" y2="434.19" stroke="#000" stroke-width="1.2"/>
<line x1="58.0" y1="429.52" x2="61.4" y2="429.52" stroke="#000" stroke-width="1.2"/>
<line x1="58.0" y1="425.48" x2="61.4" y2="425.48" stroke="#000" stroke-width="1.2"/>
<line x1="58.0" y1="421.91" x2="61.4" y2="421.91" stroke="#000" stroke-width="1.2"/>
<line x1="54.8" y1="418.72" x2="61.4" y2="418.72" stroke="#000" stroke-width="1.3"/>
<text x="50.7" y="422.17" text-anchor="end" font-size="12">100</text>
<line x1="58.0" y1="397.71" x2="61.4" y2="397.71" stroke="#000" stroke-width="1.2"/>
<line x1="58.0" y1="385.43" x2="61.4" y2="385.43" stroke="#000" stroke-width="1.2"/>
<line x1="58.0" y1="376.71" x2="61.4" y2="376.71" stroke="#000" stroke-width="1.2"/>
<line x1="58.0" y1="369.95" x2="61.4" y2="369.95" stroke="#000" stroke-width="1.2"/>
<line x1="58.0" y1="364.43" x2="61.4" y2="364.43" stroke="#000" stroke-width="1.2"/>
<line x1="58.0" y1="359.76" x2="61.4" y2="359.76" stroke="#000" stroke-width="1.2"/>
<line x1="58.0" y1="355.71" x2="61.4" y2="355.71" stroke="#000" stroke-width="1.2"/>
<line x1="58.0" y1="352.14" x2="61.4" y2="352.14" stroke="#000" stroke-width="1.2"/>
<line x1="54.8" y1="348.95" x2="61.4" y2="348.95" stroke="#000" stroke-width="1.3"/>
<text x="50.7" y="352.40" text-anchor="end" font-size="12">1000</text>
<line x1="61.40" y1="558.25" x2="61.40" y2="564.65" stroke="#000" stroke-width="1.3"/>
<text x="61.40" y="578.55" text-anchor="middle" font-size="12.2">0</text>
<line x1="79.18" y1="558.25" x2="79.18" y2="561.55" stroke="#000" stroke-width="1.3"/>
<line x1="96.96" y1="558.25" x2="96.96" y2="564.65" stroke="#000" stroke-width="1.3"/>
<text x="96.96" y="578.55" text-anchor="middle" font-size="12.2">20</text>
<line x1="114.74" y1="558.25" x2="114.74" y2="561.55" stroke="#000" stroke-width="1.3"/>
<line x1="132.52" y1="558.25" x2="132.52" y2="564.65" stroke="#000" stroke-width="1.3"/>
<text x="132.52" y="578.55" text-anchor="middle" font-size="12.2">40</text>
<line x1="150.30" y1="558.25" x2="150.30" y2="561.55" stroke="#000" stroke-width="1.3"/>
<line x1="168.08" y1="558.25" x2="168.08" y2="564.65" stroke="#000" stroke-width="1.3"/>
<text x="168.08" y="578.55" text-anchor="middle" font-size="12.2">60</text>
<line x1="185.86" y1="558.25" x2="185.86" y2="561.55" stroke="#000" stroke-width="1.3"/>
<line x1="203.64" y1="558.25" x2="203.64" y2="564.65" stroke="#000" stroke-width="1.3"/>
<text x="203.64" y="578.55" text-anchor="middle" font-size="12.2">80</text>
<line x1="221.42" y1="558.25" x2="221.42" y2="561.55" stroke="#000" stroke-width="1.3"/>
<line x1="239.20" y1="558.25" x2="239.20" y2="564.65" stroke="#000" stroke-width="1.3"/>
<text x="239.20" y="578.55" text-anchor="middle" font-size="12.2">100</text>
<line x1="311.8" y1="348.45" x2="311.8" y2="558.75" stroke="#000" stroke-width="1.3"/>
<line x1="305.2" y1="558.25" x2="490.20000000000005" y2="558.25" stroke="#000" stroke-width="1.3"/>
<line x1="305.2" y1="558.25" x2="311.8" y2="558.25" stroke="#000" stroke-width="1.3"/>
<text x="301.1" y="561.70" text-anchor="end" font-size="12">1</text>
<line x1="308.40000000000003" y1="537.25" x2="311.8" y2="537.25" stroke="#000" stroke-width="1.2"/>
<line x1="308.40000000000003" y1="524.96" x2="311.8" y2="524.96" stroke="#000" stroke-width="1.2"/>
<line x1="308.40000000000003" y1="516.25" x2="311.8" y2="516.25" stroke="#000" stroke-width="1.2"/>
<line x1="308.40000000000003" y1="509.49" x2="311.8" y2="509.49" stroke="#000" stroke-width="1.2"/>
<line x1="308.40000000000003" y1="503.96" x2="311.8" y2="503.96" stroke="#000" stroke-width="1.2"/>
<line x1="308.40000000000003" y1="499.29" x2="311.8" y2="499.29" stroke="#000" stroke-width="1.2"/>
<line x1="308.40000000000003" y1="495.24" x2="311.8" y2="495.24" stroke="#000" stroke-width="1.2"/>
<line x1="308.40000000000003" y1="491.68" x2="311.8" y2="491.68" stroke="#000" stroke-width="1.2"/>
<line x1="305.2" y1="488.48" x2="311.8" y2="488.48" stroke="#000" stroke-width="1.3"/>
<text x="301.1" y="491.93" text-anchor="end" font-size="12">10</text>
<line x1="308.40000000000003" y1="467.48" x2="311.8" y2="467.48" stroke="#000" stroke-width="1.2"/>
<line x1="308.40000000000003" y1="455.20" x2="311.8" y2="455.20" stroke="#000" stroke-width="1.2"/>
<line x1="308.40000000000003" y1="446.48" x2="311.8" y2="446.48" stroke="#000" stroke-width="1.2"/>
<line x1="308.40000000000003" y1="439.72" x2="311.8" y2="439.72" stroke="#000" stroke-width="1.2"/>
<line x1="308.40000000000003" y1="434.19" x2="311.8" y2="434.19" stroke="#000" stroke-width="1.2"/>
<line x1="308.40000000000003" y1="429.52" x2="311.8" y2="429.52" stroke="#000" stroke-width="1.2"/>
<line x1="308.40000000000003" y1="425.48" x2="311.8" y2="425.48" stroke="#000" stroke-width="1.2"/>
<line x1="308.40000000000003" y1="421.91" x2="311.8" y2="421.91" stroke="#000" stroke-width="1.2"/>
<line x1="305.2" y1="418.72" x2="311.8" y2="418.72" stroke="#000" stroke-width="1.3"/>
<text x="301.1" y="422.17" text-anchor="end" font-size="12">100</text>
<line x1="308.40000000000003" y1="397.71" x2="311.8" y2="397.71" stroke="#000" stroke-width="1.2"/>
<line x1="308.40000000000003" y1="385.43" x2="311.8" y2="385.43" stroke="#000" stroke-width="1.2"/>
<line x1="308.40000000000003" y1="376.71" x2="311.8" y2="376.71" stroke="#000" stroke-width="1.2"/>
<line x1="308.40000000000003" y1="369.95" x2="311.8" y2="369.95" stroke="#000" stroke-width="1.2"/>
<line x1="308.40000000000003" y1="364.43" x2="311.8" y2="364.43" stroke="#000" stroke-width="1.2"/>
<line x1="308.40000000000003" y1="359.76" x2="311.8" y2="359.76" stroke="#000" stroke-width="1.2"/>
<line x1="308.40000000000003" y1="355.71" x2="311.8" y2="355.71" stroke="#000" stroke-width="1.2"/>
<line x1="308.40000000000003" y1="352.14" x2="311.8" y2="352.14" stroke="#000" stroke-width="1.2"/>
<line x1="305.2" y1="348.95" x2="311.8" y2="348.95" stroke="#000" stroke-width="1.3"/>
<text x="301.1" y="352.40" text-anchor="end" font-size="12">1000</text>
<line x1="311.80" y1="558.25" x2="311.80" y2="564.65" stroke="#000" stroke-width="1.3"/>
<text x="311.80" y="578.55" text-anchor="middle" font-size="12.2">0</text>
<line x1="329.58" y1="558.25" x2="329.58" y2="561.55" stroke="#000" stroke-width="1.3"/>
<line x1="347.36" y1="558.25" x2="347.36" y2="564.65" stroke="#000" stroke-width="1.3"/>
<text x="347.36" y="578.55" text-anchor="middle" font-size="12.2">20</text>
<line x1="365.14" y1="558.25" x2="365.14" y2="561.55" stroke="#000" stroke-width="1.3"/>
<line x1="382.92" y1="558.25" x2="382.92" y2="564.65" stroke="#000" stroke-width="1.3"/>
<text x="382.92" y="578.55" text-anchor="middle" font-size="12.2">40</text>
<line x1="400.70" y1="558.25" x2="400.70" y2="561.55" stroke="#000" stroke-width="1.3"/>
<line x1="418.48" y1="558.25" x2="418.48" y2="564.65" stroke="#000" stroke-width="1.3"/>
<text x="418.48" y="578.55" text-anchor="middle" font-size="12.2">60</text>
<line x1="436.26" y1="558.25" x2="436.26" y2="561.55" stroke="#000" stroke-width="1.3"/>
<line x1="454.04" y1="558.25" x2="454.04" y2="564.65" stroke="#000" stroke-width="1.3"/>
<text x="454.04" y="578.55" text-anchor="middle" font-size="12.2">80</text>
<line x1="471.82" y1="558.25" x2="471.82" y2="561.55" stroke="#000" stroke-width="1.3"/>
<line x1="489.60" y1="558.25" x2="489.60" y2="564.65" stroke="#000" stroke-width="1.3"/>
<text x="489.60" y="578.55" text-anchor="middle" font-size="12.2">100</text>
<line x1="145.3" y1="225.5" x2="164.5" y2="225.5" stroke="#222" stroke-width="0.72"/>
<polygon points="154.90,222.20 155.72,224.37 158.04,224.48 156.23,225.93 156.84,228.17 154.90,226.90 152.96,228.17 153.57,225.93 151.76,224.48 154.08,224.37" fill="#fff" stroke="#333" stroke-width="0.6"/>
<text x="167.4" y="228.80" font-size="9.3" textLength="79.3" lengthAdjust="spacingAndGlyphs">Non-Hispanic whites</text>
<line x1="145.3" y1="236.3" x2="164.5" y2="236.3" stroke="#222" stroke-width="0.72"/>
<circle cx="154.90" cy="236.30" r="3.1" fill="#000"/>
<text x="167.4" y="239.60" font-size="9.3" textLength="25.0" lengthAdjust="spacingAndGlyphs">Blacks</text>
<line x1="145.3" y1="247.0" x2="164.5" y2="247.0" stroke="#222" stroke-width="0.72"/>
<rect x="152.30" y="244.40" width="5.2" height="5.2" fill="#fff" stroke="#333" stroke-width="0.7"/>
<text x="167.4" y="250.30" font-size="9.3" textLength="60.4" lengthAdjust="spacingAndGlyphs">Hispanic whites</text>
<line x1="145.3" y1="257.8" x2="164.5" y2="257.8" stroke="#222" stroke-width="0.72"/>
<polygon points="154.90,254.09 158.40,260.49 151.40,260.49" fill="#000"/>
<text x="167.4" y="261.10" font-size="9.3" textLength="92.5" lengthAdjust="spacingAndGlyphs">Asians/Pacific Islanders</text>
<text x="61.6" y="598.9" font-size="11" fill="#222">----------------------------------------------</text>
<text x="230" y="598.9" font-size="11.3" fill="#111" textLength="116.4" lengthAdjust="spacingAndGlyphs">Age at diagnosis (years)</text>
<text x="349.1" y="598.9" font-size="11" fill="#222">----------------------------------------------</text>
</svg>
</body></html>
